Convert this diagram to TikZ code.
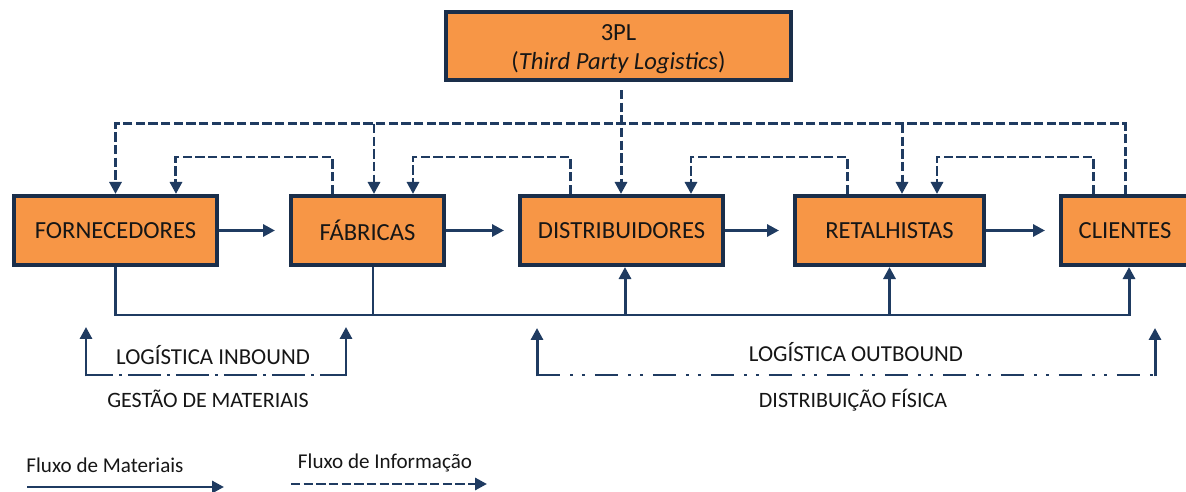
\documentclass[tikz,border=0pt]{standalone}
\usepackage{fontspec}
\setmainfont{Carlito}
\usetikzlibrary{arrows.meta}
\definecolor{boxfill}{HTML}{F79646}
\definecolor{boxline}{HTML}{1A2E4A}
\definecolor{flow}{HTML}{1F3B61}
\definecolor{ink}{HTML}{161616}
\begin{document}
\begin{tikzpicture}[x=0.02cm,y=-0.02cm,
  stage/.style={draw=boxline, fill=boxfill, line width=2.3pt, inner sep=0pt,
    minimum height=1.38cm, font=\fontsize{14}{16.5}\selectfont, text=ink},
  arr/.style={-{Triangle[length=0.24cm,width=0.24cm]}},
  mat/.style={draw=flow, line width=1.7pt},
  info/.style={draw=flow, line width=1.7pt, dash pattern=on 5.3pt off 1.9pt},
  lbl/.style={font=\fontsize{13}{15}\selectfont, text=ink, inner sep=0pt},
  sublbl/.style={font=\fontsize{12.5}{15}\selectfont, text=ink, inner sep=0pt},
  legend/.style={font=\fontsize{12}{14}\selectfont, text=ink, inner sep=0pt},
  inboundline/.style={mat, dash pattern=on 18.8pt off 3.4pt on 1.7pt off 3.4pt, dash phase=3.4pt},
  outboundline/.style={mat, dash pattern=on 13.1pt off 5.7pt on 1.7pt off 5.1pt on 1.7pt off 5.7pt}]
\useasboundingbox (0,0) rectangle (1186,492);
\clip (0,0) rectangle (1186,492);

% supply chain stages
\node[stage, minimum width=4.06cm] (forn) at (115.5,230.5) {FORNECEDORES};
\node[stage, minimum width=3.06cm] (fab)  at (367.5,230.5) {FÁBRICAS};
\node[stage, minimum width=4.06cm] (dist) at (621.5,230.5) {DISTRIBUIDORES};
\node[stage, minimum width=3.78cm] (ret)  at (889.5,230.5) {RETALHISTAS};
\node[stage, minimum width=2.56cm] (cli)  at (1125,230.5) {CLIENTES};
\node[stage, minimum width=6.9cm, minimum height=1.36cm, align=center] (tpl) at (618.5,46)
  {\raisebox{-2pt}[\height][\depth]{3PL}\\
   \raisebox{-2pt}[\height][\depth]{(\textit{Third Party Logistics})}};

% material flow between stages
\draw[mat, arr, shorten >=0.28cm] (forn) -- (fab);
\draw[mat, arr, shorten >=0.28cm] (fab) -- (dist);
\draw[mat, arr, shorten >=0.28cm] (dist) -- (ret);
\draw[mat, arr, shorten >=0.28cm] (ret) -- (cli);

% information flow: long loop from the customers back to every stage
\coordinate (hi) at (0,124);
\coordinate (lo) at (0,157);
\draw[info, arr] (cli.north) -- (cli.north |- hi) -| (forn.north);
\coordinate (fabI) at ([xshift=0.13cm]fab.north);
\draw[info, arr] (fabI |- hi) -- (fabI);
\coordinate (retI) at ([xshift=0.25cm]ret.north);
\draw[info, arr] (retI |- hi) -- (retI);

% information from 3PL
\coordinate (tplB) at ([xshift=0.05cm,yshift=-0.16cm]tpl.south);
\draw[info, arr] (tplB) -- (tplB |- dist.north);

% information flow: each stage back to its predecessor
\coordinate (fabO)  at ([xshift=-0.71cm]fab.north);
\coordinate (fornI) at ([xshift=1.21cm]forn.north);
\draw[info, arr] (fabO) -- (fabO |- lo) -| (fornI);
\coordinate (distO) at ([xshift=-1.03cm]dist.north);
\coordinate (fabJ)  at ([xshift=0.91cm]fab.north);
\draw[info, arr] (distO) -- (distO |- lo) -| (fabJ);
\coordinate (retO)  at ([xshift=-0.85cm]ret.north);
\coordinate (distI) at ([xshift=1.39cm]dist.north);
\draw[info, arr] (retO) -- (retO |- lo) -| (distI);
\coordinate (cliO)  at ([xshift=-0.64cm]cli.north);
\coordinate (retJ)  at ([xshift=0.95cm]ret.north);
\draw[info, arr] (cliO) -- (cliO |- lo) -| (retJ);

% bottom material bus
\coordinate (bus) at (0,315);
\coordinate (cliB) at ([xshift=0.08cm]cli.south);
\draw[mat, arr] (forn.south) -- (forn.south |- bus) -- (cliB |- bus) -- (cliB);
\coordinate (fabB) at ([xshift=0.11cm]fab.south);
\draw[mat] (fabB) -- (fabB |- bus);
\coordinate (distB) at ([xshift=0.07cm]dist.south);
\draw[mat, arr] (distB |- bus) -- (distB);
\draw[mat, arr] (ret.south |- bus) -- (ret.south);

% inbound bracket
\coordinate (inL) at (86,375);
\coordinate (inR) at (346,375);
\coordinate (inLt) at (86,327);
\coordinate (inRt) at (346,327);
\draw[inboundline] (inL) -- (inR);
\draw[mat, arr] ([yshift=-0.85pt]inL) -- (inLt);
\draw[mat, arr] ([yshift=-0.85pt]inR) -- (inRt);
\node[lbl] (inb) at (213,355) {LOGÍSTICA INBOUND};
\node[sublbl] (gest) at (208,399) {GESTÃO DE MATERIAIS};

% outbound bracket
\coordinate (outL) at (537,375);
\coordinate (outR) at (1155,375);
\coordinate (outLt) at (537,328);
\coordinate (outRt) at (1155,328);
\draw[outboundline] (outL) -- (outR);
\draw[mat, arr] ([yshift=-0.85pt]outL) -- (outLt);
\draw[mat, arr] ([yshift=-0.85pt]outR) -- (outRt);
\node[lbl] (outb) at (856,352) {LOGÍSTICA OUTBOUND};
\node[sublbl] (distf) at (853,400) {DISTRIBUIÇÃO FÍSICA};

% legend
\node[legend] (lm) at (105,465) {Fluxo de Materiais};
\node[legend] (li) at (385,463) {Fluxo de Informação};
\coordinate (lmA) at (27,487);
\coordinate (lmB) at (224,487);
\draw[mat, arr] (lmA) -- (lmB);
\coordinate (liA) at (291,484);
\coordinate (liB) at (487,484);
\draw[info, arr] (liA) -- (liB);
\end{tikzpicture}
\end{document}
